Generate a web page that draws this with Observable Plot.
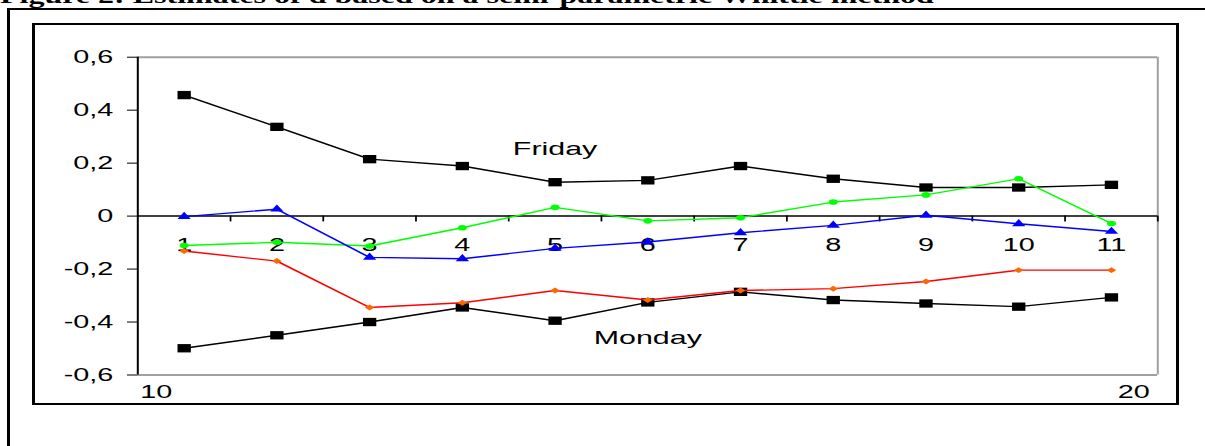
<!DOCTYPE html>
<html>
<head>
<meta charset="utf-8">
<script src="https://cdn.jsdelivr.net/npm/d3@7"></script>
<script src="https://cdn.jsdelivr.net/npm/@observablehq/plot@0.6"></script>
<style>
  html, body { margin: 0; padding: 0; background: #fff; }
  #page { position: relative; width: 1205px; height: 446px; overflow: hidden; background: #fff; }
  #title { position: absolute; left: 0; top: -14px; font: bold 20px "Liberation Serif", "Times New Roman", serif;
           line-height: 20px; white-space: nowrap; transform: scaleX(1.6); transform-origin: 0 0; color: #000; }
  #outer { position: absolute; left: 7px; top: 8px; width: 1400px; height: 600px; box-sizing: border-box;
           border-left: 3px solid #000; border-top: 2px solid #000; }
  #inner { position: absolute; left: 32px; top: 23px; width: 1147px; height: 382px; box-sizing: border-box;
           border-left: 3px solid #000; border-right: 3px solid #000; border-top: 2px solid #000; border-bottom: 2px solid #000; }
  #chart { position: absolute; left: 0; top: 0; }
</style>
</head>
<body>
<div id="page">
  <div id="title">Figure 2: Estimates of d based on a semi-parametric Whittle method</div>
  <div id="outer"></div>
  <div id="inner"></div>
  <div id="chart"></div>
</div>
<script>
// ---- data ----
const categories = [1, 2, 3, 4, 5, 6, 7, 8, 9, 10, 11];
const friday  = [0.457, 0.337, 0.215, 0.189, 0.128, 0.135, 0.189, 0.141, 0.108, 0.108, 0.118];
const monday  = [-0.499, -0.450, -0.400, -0.345, -0.395, -0.326, -0.286, -0.317, -0.330, -0.342, -0.307];
const greenSeries  = [-0.111, -0.099, -0.113, -0.044, 0.033, -0.018, -0.006, 0.053, 0.080, 0.141, -0.028];
const blueSeries   = [-0.002, 0.026, -0.156, -0.161, -0.122, -0.098, -0.063, -0.035, 0.003, -0.029, -0.058];
const orangeSeries = [-0.132, -0.170, -0.345, -0.327, -0.281, -0.317, -0.281, -0.274, -0.247, -0.204, -0.204];
const yTicks = [-0.6, -0.4, -0.2, 0, 0.2, 0.4, 0.6];
const bottomTickLabels = ["10", "20"];
const annotationText = ["Friday", "Monday"];
const annotationCat = [5, 6];
const annotationValue = [0.253, -0.46];

// ---- layout ----
const S = 1.6;                 // horizontal stretch of the whole figure
const W = 1205, H = 446;
const LW = W / S;
const xDomain = [categories[0] - 0.5, categories[categories.length - 1] + 0.5];
const yDomain = [yTicks[0], yTicks[yTicks.length - 1]];
const px = v => v / S;         // convert actual horizontal px to logical units

const rows = vals => categories.map((c, i) => ({x: c, y: vals[i]}));
const midTicks = categories.map(c => c + 0.5);
const annotations = annotationText.map((t, i) => ({text: t, x: annotationCat[i], y: annotationValue[i]}));
const fmt = d => d === 0 ? "0" : d.toFixed(1).replace(".", ",");

const font = "'Liberation Sans', Arial, sans-serif";

const chart = Plot.plot({
  width: LW,
  height: H,
  marginLeft: px(137),
  marginRight: px(W - 1157),
  marginTop: 56.7,
  marginBottom: H - 374.5,
  style: {background: "transparent", fontFamily: font, fontSize: "18px", color: "#000", overflow: "visible"},
  x: {domain: xDomain, axis: null},
  y: {domain: yDomain, ticks: yTicks, tickFormat: fmt, tickSize: px(10), tickPadding: px(14.5), label: null},
  marks: [
    Plot.ruleY([yDomain[1]], {stroke: "#a0a0a0", strokeWidth: 2}),
    Plot.ruleY([yDomain[0]], {stroke: "#a0a0a0", strokeWidth: 2}),
    Plot.ruleX([xDomain[1]], {stroke: "#a0a0a0", strokeWidth: 1.25}),
    Plot.ruleX([xDomain[0]], {stroke: "#000", strokeWidth: 1.25}),
    Plot.ruleY([0], {stroke: "#000", strokeWidth: 1.5}),
    Plot.ruleX(midTicks, {y1: 0, y2: -0.022, stroke: "#000", strokeWidth: 1.1}),
    Plot.text(categories, {x: d => d, y: 0, dy: 29, text: d => String(d), fontSize: 18, fill: "#000"}),
    Plot.text([bottomTickLabels[0]], {x: xDomain[0], y: yDomain[0], dy: 17.5, dx: px(2.5), text: d => d,
      textAnchor: "start", fontSize: 18, fill: "#000"}),
    Plot.text([bottomTickLabels[1]], {x: xDomain[1], y: yDomain[0], dy: 17.5, dx: px(-8), text: d => d,
      textAnchor: "end", fontSize: 18, fill: "#000"}),
    Plot.text(annotations, {x: "x", y: "y", text: "text", fontSize: 19, fill: "#000"}),
    // Friday
    Plot.line(rows(friday), {x: "x", y: "y", stroke: "#000", strokeWidth: 1.4}),
    Plot.dot(rows(friday), {x: "x", y: "y", symbol: "square", r: 4.7, fill: "#000", stroke: "none"}),
    // Monday
    Plot.line(rows(monday), {x: "x", y: "y", stroke: "#000", strokeWidth: 1.4}),
    Plot.dot(rows(monday), {x: "x", y: "y", symbol: "square", r: 4.7, fill: "#000", stroke: "none"}),
    // orange diamonds on red line
    Plot.line(rows(orangeSeries), {x: "x", y: "y", stroke: "#ff0000", strokeWidth: 1.4}),
    Plot.dot(rows(orangeSeries), {x: "x", y: "y", symbol: "diamond2", r: 2.7, fill: "#ff6600", stroke: "none"}),
    // green circles
    Plot.line(rows(greenSeries), {x: "x", y: "y", stroke: "#00ff00", strokeWidth: 1.4}),
    Plot.dot(rows(greenSeries), {x: "x", y: "y", symbol: "circle", r: 2.8, fill: "#00ff00", stroke: "none"}),
    // blue triangles
    Plot.line(rows(blueSeries), {x: "x", y: "y", stroke: "#0000ff", strokeWidth: 1.4}),
    Plot.dot(rows(blueSeries), {x: "x", y: "y", symbol: "triangle", r: 3.1, fill: "#0000ff", stroke: "none"})
  ]
});

chart.setAttribute("width", W);
chart.setAttribute("height", H);
chart.setAttribute("preserveAspectRatio", "none");
chart.style.width = W + "px";
chart.style.height = H + "px";
chart.style.maxWidth = "none";
document.getElementById("chart").appendChild(chart);
</script>
</body>
</html>
